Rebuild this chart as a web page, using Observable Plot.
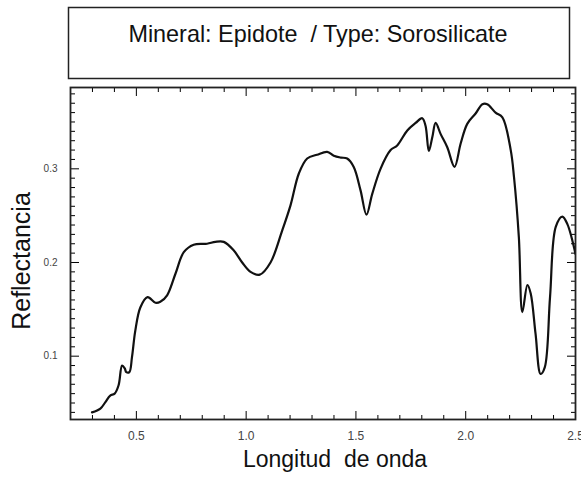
<!DOCTYPE html>
<html>
<head>
<meta charset="utf-8">
<script src="https://cdn.jsdelivr.net/npm/d3@7"></script>
<script src="https://cdn.jsdelivr.net/npm/@observablehq/plot@0.6"></script>
<style>
  html, body { margin: 0; padding: 0; background: #fff; overflow: hidden; }
  #chart { width: 581px; height: 482px; }
</style>
</head>
<body>
<div id="chart"></div>
<script>
// ---- data ----
const wavelength = [
  0.298, 0.336, 0.359, 0.381, 0.401, 0.419, 0.435, 0.447, 0.454, 0.468,
  0.480, 0.495, 0.518, 0.551, 0.587, 0.609, 0.640, 0.678, 0.716, 0.761,
  0.822, 0.860, 0.898, 0.943, 0.982, 1.020, 1.062, 1.111, 1.164, 1.202,
  1.240, 1.278, 1.323, 1.369, 1.399, 1.431, 1.460, 1.490, 1.521, 1.548,
  1.574, 1.612, 1.658, 1.688, 1.734, 1.772, 1.802, 1.817, 1.832, 1.848,
  1.863, 1.886, 1.916, 1.949, 1.977, 2.007, 2.045, 2.076, 2.098, 2.136,
  2.167, 2.205, 2.220, 2.242, 2.258, 2.281, 2.296, 2.318, 2.341, 2.360,
  2.384, 2.410, 2.440, 2.463, 2.500
];
const reflectance = [
  0.040, 0.044, 0.051, 0.058, 0.060, 0.069, 0.090, 0.087, 0.083, 0.083,
  0.099, 0.127, 0.152, 0.163, 0.157, 0.158, 0.165, 0.188, 0.211, 0.219,
  0.220, 0.222, 0.222, 0.213, 0.200, 0.190, 0.187, 0.200, 0.234, 0.261,
  0.295, 0.311, 0.315, 0.318, 0.314, 0.312, 0.311, 0.302, 0.277, 0.251,
  0.273, 0.300, 0.320, 0.325, 0.341, 0.349, 0.354, 0.346, 0.319, 0.334,
  0.349, 0.337, 0.323, 0.302, 0.327, 0.348, 0.359, 0.369, 0.369, 0.360,
  0.355, 0.320, 0.291, 0.227, 0.147, 0.176, 0.167, 0.124, 0.081, 0.088,
  0.163, 0.238, 0.249, 0.241, 0.209
];
const xMajorTicks = [0.5, 1.0, 1.5, 2.0, 2.5];
const xMinorTicks = [0.3, 0.4, 0.6, 0.7, 0.8, 0.9, 1.1, 1.2, 1.3, 1.4, 1.6, 1.7, 1.8, 1.9, 2.1, 2.2, 2.3, 2.4];
const yMajorTicks = [0.1, 0.2, 0.3];
const yMinorTicks = [
  0.04, 0.05, 0.06, 0.07, 0.08, 0.09,
  0.11, 0.12, 0.13, 0.14, 0.15, 0.16, 0.17, 0.18, 0.19,
  0.21, 0.22, 0.23, 0.24, 0.25, 0.26, 0.27, 0.28, 0.29,
  0.31, 0.32, 0.33, 0.34, 0.35, 0.36, 0.37, 0.38
];
const xDomain = [0.2, 2.5];
const yDomain = [0.0324, 0.3868];
const titleText = "Mineral: Epidote  / Type: Sorosilicate";
const xLabel = "Longitud  de onda";
const yLabel = "Reflectancia";

// ---- layout ----
const W = 581, H = 482;
const mL = 70, mR = 6, mT = 87, mB = 63;
const font = "'Liberation Sans', Arial, Helvetica, sans-serif";

const spectrum = wavelength.map((x, i) => ({x, y: reflectance[i]}));
const noText = {tickFormat: () => "", fill: "none", label: null};

// inward ticks built from Plot's own axis tick marks, moved inside the frame by insets
const tickAxes = [
  Plot.axisX({anchor: "bottom", ticks: xMajorTicks, tickSize: 8, insetBottom: 8, ...noText}),
  Plot.axisX({anchor: "bottom", ticks: xMinorTicks, tickSize: 4, insetBottom: 4, ...noText}),
  Plot.axisX({anchor: "top", ticks: xMajorTicks, tickSize: 8, insetTop: 8, ...noText}),
  Plot.axisX({anchor: "top", ticks: xMinorTicks, tickSize: 4, insetTop: 4, ...noText}),
  Plot.axisY({anchor: "left", ticks: yMajorTicks, tickSize: 9, insetLeft: 9, ...noText}),
  Plot.axisY({anchor: "left", ticks: yMinorTicks, tickSize: 5, insetLeft: 5, ...noText}),
  Plot.axisY({anchor: "right", ticks: yMajorTicks, tickSize: 9, insetRight: 9, ...noText}),
  Plot.axisY({anchor: "right", ticks: yMinorTicks, tickSize: 5, insetRight: 5, ...noText})
];

const chart = Plot.plot({
  width: W, height: H,
  marginLeft: mL, marginRight: mR, marginTop: mT, marginBottom: mB,
  style: {fontFamily: font, overflow: "visible"},
  x: {domain: xDomain},
  y: {domain: yDomain},
  marks: [
    // tick labels
    Plot.axisX({ticks: xMajorTicks, tickSize: 0, tickPadding: 12, tickFormat: ".1f",
      fontSize: 12, fill: "#444", label: null}),
    Plot.axisY({ticks: yMajorTicks, tickSize: 0, tickPadding: 13, tickFormat: ".1f",
      fontSize: 10, fill: "#444", label: null}),
    ...tickAxes,
    Plot.frame({stroke: "#222", strokeWidth: 1.8, fill: "none"}),
    // spectrum
    Plot.line(spectrum, {x: "x", y: "y", stroke: "#111", strokeWidth: 2.2,
      curve: "catmull-rom", clip: true, strokeLinejoin: "round"})
  ]
});

document.getElementById("chart").appendChild(chart);

// title box and axis titles (real text)
const svg = d3.select(chart);
svg.append("rect")
  .attr("x", 68.5).attr("y", 7.5).attr("width", 501).attr("height", 71)
  .attr("fill", "white").attr("stroke", "#222").attr("stroke-width", 1.5);
svg.append("text")
  .attr("x", 318).attr("y", 42)
  .attr("text-anchor", "middle")
  .attr("font-family", font).attr("font-size", 23.4).attr("fill", "#111")
  .style("white-space", "pre")
  .text(titleText);
svg.append("text")
  .attr("x", 335).attr("y", 467)
  .attr("text-anchor", "middle")
  .attr("font-family", font).attr("font-size", 23).attr("fill", "#111")
  .style("white-space", "pre")
  .text(xLabel);
svg.append("text")
  .attr("transform", "translate(30,261) rotate(-90)")
  .attr("text-anchor", "middle")
  .attr("font-family", font).attr("font-size", 25).attr("fill", "#111")
  .text(yLabel);
</script>
</body>
</html>
